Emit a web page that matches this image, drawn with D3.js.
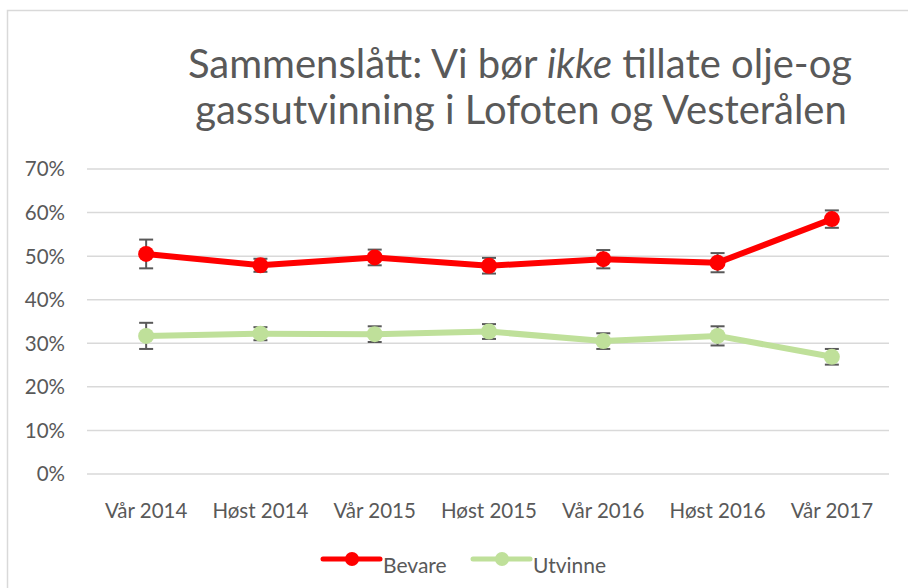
<!DOCTYPE html>
<meta charset="utf-8">
<script src="https://d3js.org/d3.v7.min.js"></script>
<style>
  body { margin: 0; background: #fff; }
  text { font-family: Lato, "Open Sans", sans-serif; fill: #595959; }
</style>
<div id="my_dataviz"></div>
<script>

// data (percent)
var periods = ["Vår 2014", "Høst 2014", "Vår 2015", "Høst 2015", "Vår 2016", "Høst 2016", "Vår 2017"];
var bevare = [50.5, 47.9, 49.7, 47.8, 49.3, 48.5, 58.5];
var bevareErr = [3.3, 1.5, 1.8, 1.8, 2.1, 2.2, 2.0];
var utvinne = [31.7, 32.2, 32.1, 32.7, 30.5, 31.7, 26.9];
var utvinneErr = [3.0, 1.5, 1.8, 1.7, 1.8, 2.2, 1.8];
var yTicks = [0, 10, 20, 30, 40, 50, 60, 70];

var series = [
  {name: "Bevare", color: "#ff0000", values: bevare, err: bevareErr},
  {name: "Utvinne", color: "#bfe09a", values: utvinne, err: utvinneErr}
];

var W = 908, H = 588;
var margin = {top: 169, right: 19, bottom: 114, left: 89},
    width = W - margin.left - margin.right,
    height = H - margin.top - margin.bottom;

var root = d3.select("#my_dataviz")
  .append("svg")
    .attr("width", W)
    .attr("height", H);

// chart border
root.append("rect")
  .attr("x", 7.5).attr("y", 10.5)
  .attr("width", 1000).attr("height", 1000)
  .attr("fill", "none")
  .attr("stroke", "#d9d9d9")
  .attr("stroke-width", 1.5);

// title
var title = root.append("text")
  .attr("text-anchor", "middle")
  .style("font-size", "40px");
title.append("tspan").attr("x", 520).attr("y", 78)
  .text("Sammenslått: Vi bør ");
title.append("tspan").style("font-style", "italic").text("ikke");
title.append("tspan").text(" tillate olje-og");
title.append("tspan").attr("x", 521).attr("y", 124)
  .text("gassutvinning i Lofoten og Vesterålen");

var svg = root.append("g")
  .attr("transform", "translate(" + margin.left + "," + margin.top + ")");

var x = d3.scalePoint()
  .domain(periods)
  .range([0, width])
  .padding(0.5);

var y = d3.scaleLinear()
  .domain([0, 70])
  .range([height, 0]);

// gridlines
svg.append("g")
  .selectAll("line")
  .data(yTicks)
  .enter()
  .append("line")
    .attr("x1", -2).attr("x2", width)
    .attr("y1", function(d) { return y(d); })
    .attr("y2", function(d) { return y(d); })
    .attr("stroke", "#d9d9d9")
    .attr("stroke-width", 1.5);

// y axis labels
svg.append("g")
  .selectAll("text")
  .data(yTicks)
  .enter()
  .append("text")
    .attr("x", -24)
    .attr("y", function(d) { return y(d); })
    .attr("dy", "0.36em")
    .attr("text-anchor", "end")
    .style("font-size", "20.5px")
    .text(function(d) { return d + "%"; });

// x axis labels
svg.append("g")
  .selectAll("text")
  .data(periods)
  .enter()
  .append("text")
    .attr("x", function(d) { return x(d); })
    .attr("y", height + 44)
    .attr("text-anchor", "middle")
    .style("font-size", "20.5px")
    .text(function(d) { return d; });

var line = d3.line()
  .x(function(d, i) { return x(periods[i]); })
  .y(function(d) { return y(d); });

series.forEach(function(s) {
  var g = svg.append("g");

  g.append("path")
    .datum(s.values)
    .attr("d", line)
    .attr("fill", "none")
    .attr("stroke", s.color)
    .attr("stroke-width", 6)
    .attr("stroke-linejoin", "round");

  // error bars
  var eb = g.append("g")
    .selectAll("g")
    .data(s.values)
    .enter()
    .append("g")
      .attr("stroke", "#595959")
      .attr("stroke-width", 2);
  eb.append("line")
    .attr("x1", function(d, i) { return x(periods[i]); })
    .attr("x2", function(d, i) { return x(periods[i]); })
    .attr("y1", function(d, i) { return y(d + s.err[i]); })
    .attr("y2", function(d, i) { return y(d - s.err[i]); });
  eb.append("line")
    .attr("x1", function(d, i) { return x(periods[i]) - 7; })
    .attr("x2", function(d, i) { return x(periods[i]) + 7; })
    .attr("y1", function(d, i) { return y(d + s.err[i]); })
    .attr("y2", function(d, i) { return y(d + s.err[i]); });
  eb.append("line")
    .attr("x1", function(d, i) { return x(periods[i]) - 7; })
    .attr("x2", function(d, i) { return x(periods[i]) + 7; })
    .attr("y1", function(d, i) { return y(d - s.err[i]); })
    .attr("y2", function(d, i) { return y(d - s.err[i]); });

  g.append("g")
    .selectAll("circle")
    .data(s.values)
    .enter()
    .append("circle")
      .attr("cx", function(d, i) { return x(periods[i]); })
      .attr("cy", function(d) { return y(d); })
      .attr("r", 8)
      .attr("fill", s.color);
});

// legend
var legend = root.append("g")
  .selectAll("g")
  .data(series)
  .enter()
  .append("g")
    .attr("transform", function(d, i) { return "translate(" + (323 + i * 150) + ",559)"; });
legend.append("line")
  .attr("x1", 0).attr("x2", 57)
  .attr("stroke", function(d) { return d.color; })
  .attr("stroke-width", 5)
  .attr("stroke-linecap", "round");
legend.append("circle")
  .attr("cx", 29).attr("r", 7)
  .attr("fill", function(d) { return d.color; });
legend.append("text")
  .attr("x", 60).attr("y", 14)
  .style("font-size", "21px")
  .text(function(d) { return d.name; });

</script>
